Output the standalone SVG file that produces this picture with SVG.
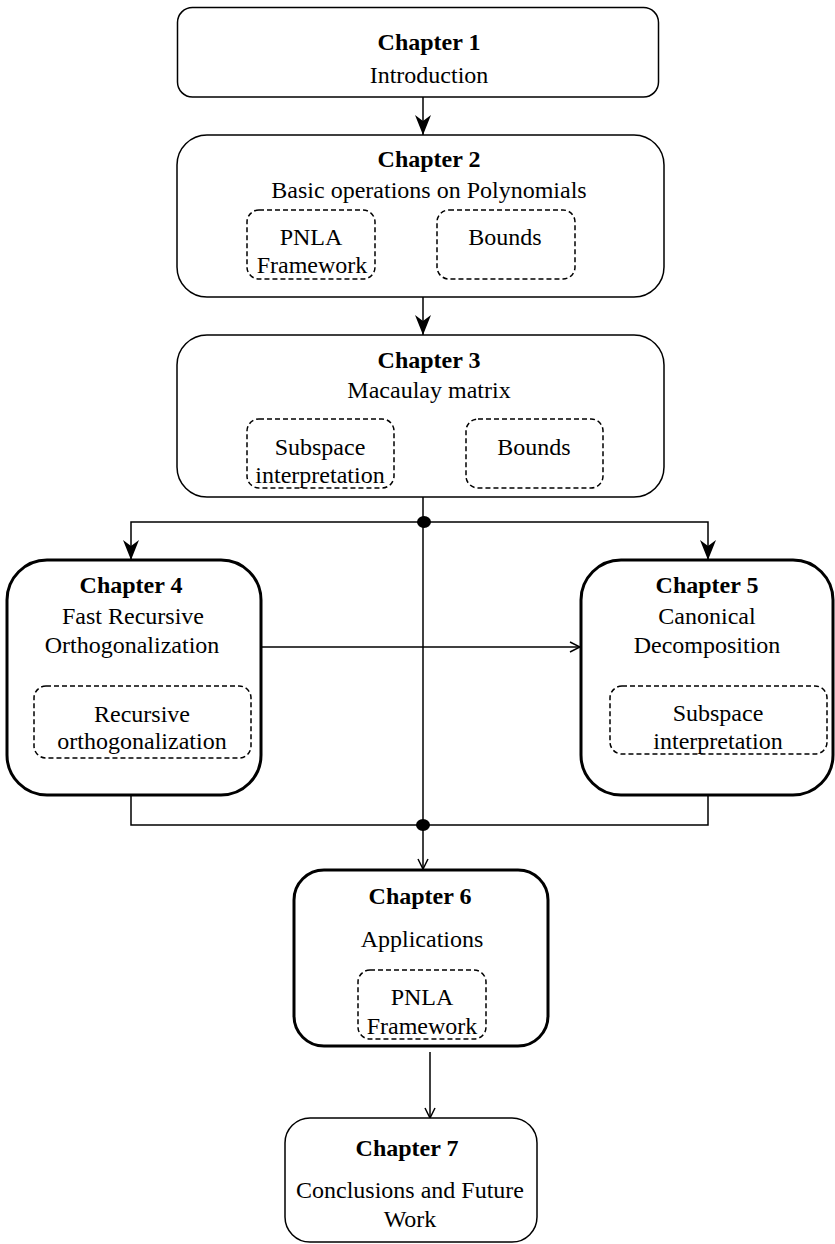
<svg xmlns="http://www.w3.org/2000/svg" width="835" height="1244" viewBox="0 0 835 1244">
<style>
.box{fill:#fff;stroke:#000;stroke-width:1.5}
.thick{fill:#fff;stroke:#000;stroke-width:3}
.dash{fill:none;stroke:#000;stroke-width:1.5;stroke-dasharray:5 3}
.t{font-family:"Liberation Serif","Times New Roman",serif;font-size:24px;text-anchor:middle;fill:#000}
.b{font-weight:bold}
.c{fill:none;stroke:#000;stroke-width:1.5}
</style>
<defs>
<marker id="big" markerUnits="userSpaceOnUse" viewBox="0 0 20 16" refX="20" refY="8" markerWidth="20" markerHeight="16" orient="auto">
<path d="M0,0 L20,8 L0,16 L6,8 Z" fill="#000"/>
</marker>
<marker id="open" markerUnits="userSpaceOnUse" viewBox="0 0 12 12" refX="11" refY="6" markerWidth="12" markerHeight="12" orient="auto">
<path d="M1,1 L11,6 L1,11" fill="none" stroke="#000" stroke-width="1.5"/>
</marker>
</defs>
<rect width="835" height="1244" fill="#fff"/>
<g id="connectors">
<line class="c" x1="423" y1="97" x2="423" y2="135" marker-end="url(#big)"/>
<line class="c" x1="423" y1="297" x2="423" y2="335" marker-end="url(#big)"/>
<line class="c" x1="423" y1="497" x2="423" y2="869" marker-end="url(#open)"/>
<polyline class="c" points="424,522 131,522 131,560" marker-end="url(#big)"/>
<polyline class="c" points="424,522 708,522 708,560" marker-end="url(#big)"/>
<line class="c" x1="261" y1="647" x2="580" y2="647" marker-end="url(#open)"/>
<polyline class="c" points="131,795 131,825 708,825 708,795"/>
<line class="c" x1="430" y1="1052" x2="430" y2="1118" marker-end="url(#open)"/>
<ellipse cx="424" cy="522" rx="7" ry="6" fill="#000"/>
<ellipse cx="423" cy="825" rx="7" ry="6" fill="#000"/>
</g>
<g id="ch1">
<rect class="box" x="177.5" y="7.5" width="481" height="89.5" rx="15"/>
<text class="t b" x="429" y="50">Chapter 1</text>
<text class="t" x="429" y="83">Introduction</text>
</g>
<g id="ch2">
<rect class="box" x="177" y="135" width="487" height="162" rx="30"/>
<text class="t b" x="429" y="167">Chapter 2</text>
<text class="t" x="429" y="198">Basic operations on Polynomials</text>
<g id="ch2-pnla">
<rect class="dash" x="247" y="210" width="128" height="69" rx="12"/>
<text class="t" x="311" y="245">PNLA</text>
<text class="t" x="312" y="273">Framework</text>
</g>
<g id="ch2-bounds">
<rect class="dash" x="437" y="210" width="138" height="69" rx="12"/>
<text class="t" x="505" y="245">Bounds</text>
</g>
</g>
<g id="ch3">
<rect class="box" x="177" y="335" width="487" height="162" rx="30"/>
<text class="t b" x="429" y="368">Chapter 3</text>
<text class="t" x="429" y="398">Macaulay matrix</text>
<g id="ch3-subspace">
<rect class="dash" x="247" y="419" width="147" height="69" rx="12"/>
<text class="t" x="320" y="455">Subspace</text>
<text class="t" x="320" y="483">interpretation</text>
</g>
<g id="ch3-bounds">
<rect class="dash" x="466" y="419" width="137" height="69" rx="12"/>
<text class="t" x="534" y="455">Bounds</text>
</g>
</g>
<g id="ch4">
<rect class="thick" x="7" y="560" width="254" height="235" rx="40"/>
<text class="t b" x="131" y="593">Chapter 4</text>
<text class="t" x="133" y="624">Fast Recursive</text>
<text class="t" x="132" y="653">Orthogonalization</text>
<g id="ch4-rec">
<rect class="dash" x="34" y="686" width="217" height="72" rx="12"/>
<text class="t" x="142" y="722">Recursive</text>
<text class="t" x="142" y="749">orthogonalization</text>
</g>
</g>
<g id="ch5">
<rect class="thick" x="581" y="560" width="252" height="235" rx="40"/>
<text class="t b" x="707" y="593">Chapter 5</text>
<text class="t" x="707" y="624">Canonical</text>
<text class="t" x="707" y="653">Decomposition</text>
<g id="ch5-subspace">
<rect class="dash" x="610" y="686" width="217" height="68" rx="12"/>
<text class="t" x="718" y="721">Subspace</text>
<text class="t" x="718" y="749">interpretation</text>
</g>
</g>
<g id="ch6">
<rect class="thick" x="294" y="870" width="254" height="176" rx="30"/>
<text class="t b" x="420" y="904">Chapter 6</text>
<text class="t" x="422" y="947">Applications</text>
<g id="ch6-pnla">
<rect class="dash" x="358" y="970" width="128" height="69" rx="12"/>
<text class="t" x="422" y="1005">PNLA</text>
<text class="t" x="422" y="1034">Framework</text>
</g>
</g>
<g id="ch7">
<rect class="box" x="285" y="1118" width="252" height="124" rx="25"/>
<text class="t b" x="407" y="1156">Chapter 7</text>
<text class="t" x="410" y="1198">Conclusions and Future</text>
<text class="t" x="410" y="1227">Work</text>
</g>
</svg>
